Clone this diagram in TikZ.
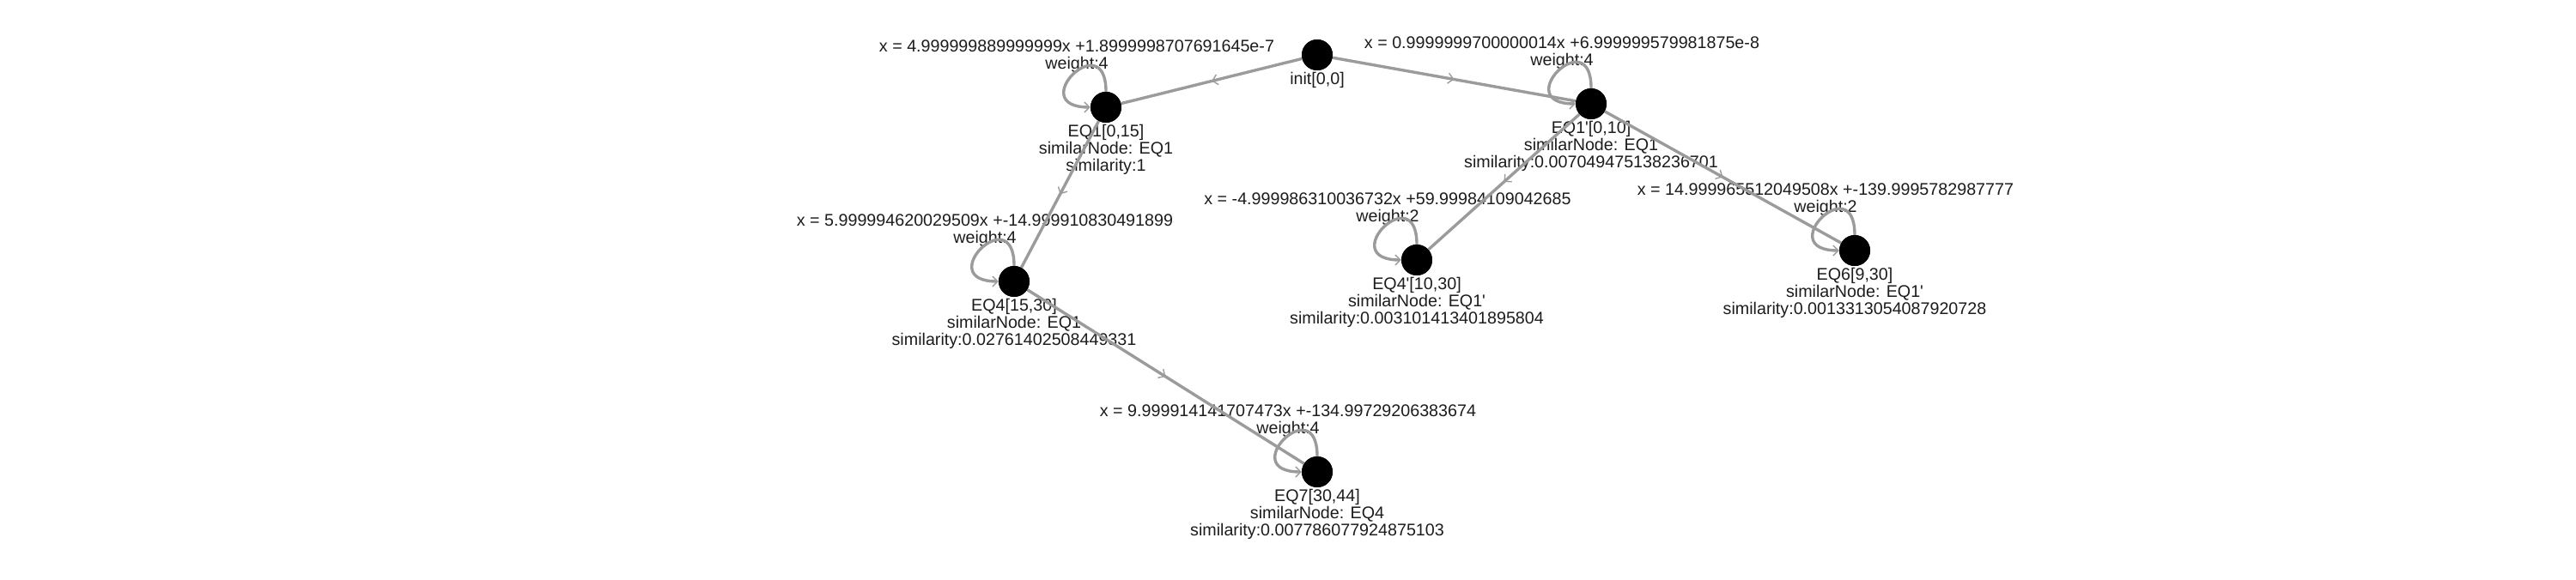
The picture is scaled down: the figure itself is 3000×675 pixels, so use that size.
\documentclass[tikz,border=0pt]{standalone}
\usepackage{fontspec}
\newfontfamily\labfont{Liberation Sans}
\usetikzlibrary{arrows.meta,decorations.markings}
\definecolor{edgegray}{RGB}{155,155,155}
\definecolor{txtcol}{RGB}{28,28,28}
\begin{document}
\begin{tikzpicture}[x=1pt,y=-1pt,
  vert/.style={circle,fill=black,minimum size=36pt,inner sep=0pt},
  lbl/.style={align=center,font=\labfont\fontsize{19.7}{20}\selectfont,text=txtcol,inner sep=0pt},
  midtip/.tip={Straight Barb[length=6pt,width=12pt,line width=1.4pt]},
  edgeln/.style={draw=edgegray,line width=3.4pt,postaction={decorate},
    decoration={markings,mark=at position 0.5 with {\arrow{midtip}}}},
  loopln/.style={draw=edgegray,line width=3.4pt,-{Straight Barb[length=6pt,width=12pt,line width=1.4pt]}}
]
\useasboundingbox (0,0) rectangle (3000,675);

% vertices
\node[vert] (init) at (1534,64) {};
\node[vert] (eqa) at (1288,125) {};
\node[vert] (eqb) at (1853,121) {};
\node[vert] (eqc) at (1181,328) {};
\node[vert] (eqd) at (1650,303) {};
\node[vert] (eqe) at (2160,292) {};
\node[vert] (eqf) at (1534,550) {};

% vertex labels
\path (init) ++(0,29) node[lbl] (linit) {init[0,0]};
\path (eqa) ++(0,49) node[lbl] (leqa) {EQ1[0,15]\\similarNode: EQ1\\similarity:1};
\path (eqb) ++(0,49) node[lbl] (leqb) {EQ1'[0,10]\\similarNode: EQ1\\similarity:0.007049475138236701};
\path (eqc) ++(0,49) node[lbl] (leqc) {EQ4[15,30]\\similarNode: EQ1\\similarity:0.02761402508449331};
\path (eqd) ++(0,49) node[lbl] (leqd) {EQ4'[10,30]\\similarNode: EQ1'\\similarity:0.003101413401895804};
\path (eqe) ++(0,49) node[lbl] (leqe) {EQ6[9,30]\\similarNode: EQ1'\\similarity:0.0013313054087920728};
\path (eqf) ++(0,49) node[lbl] (leqf) {EQ7[30,44]\\similarNode: EQ4\\similarity:0.007786077924875103};

% loop labels
\path (eqa) ++(-34,-59) node[lbl] (weqa) {x = 4.999999889999999x +1.8999998707691645e-7\\weight:4};
\path (eqb) ++(-34,-59) node[lbl] (weqb) {x = 0.9999999700000014x +6.999999579981875e-8\\weight:4};
\path (eqc) ++(-34,-59) node[lbl] (weqc) {x = 5.999994620029509x +-14.999910830491899\\weight:4};
\path (eqd) ++(-34,-59) node[lbl] (weqd) {x = -4.999986310036732x +59.99984109042685\\weight:2};
\path (eqe) ++(-34,-59) node[lbl] (weqe) {x = 14.999965512049508x +-139.9995782987777\\weight:2};
\path (eqf) ++(-34,-59) node[lbl] (weqf) {x = 9.999914141707473x +-134.99729206383674\\weight:4};

% edges
\draw[edgeln] (init) -- (eqa);
\draw[edgeln] (init) -- (eqb);
\draw[edgeln] (eqa) -- (eqc);
\draw[edgeln] (eqc) -- (eqf);
\draw[edgeln] (eqb) -- (eqd);
\draw[edgeln] (eqb) -- (eqe);

% self loops
\foreach \n in {eqa,eqb,eqc,eqd,eqe,eqf}{
  \draw[loopln] (\n.north) .. controls +(0,-78) and +(-78,0) .. (\n.west);
}

% redraw vertices on top
\foreach \n in {init,eqa,eqb,eqc,eqd,eqe,eqf}{
  \fill[black] (\n) circle (18pt);
}
\end{tikzpicture}
\end{document}
